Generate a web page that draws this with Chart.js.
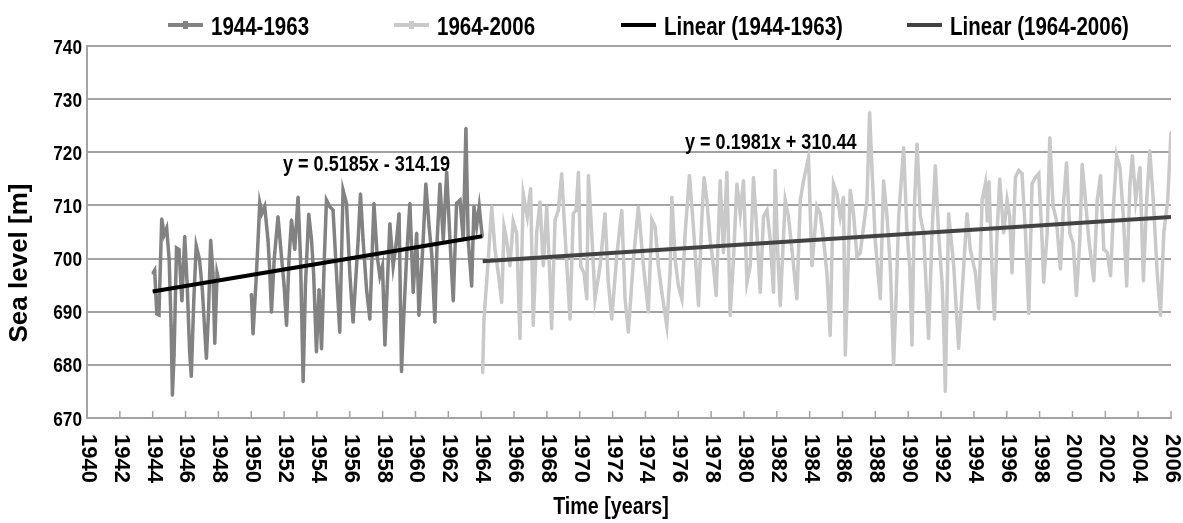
<!DOCTYPE html>
<html><head><meta charset="utf-8">
<script src="https://cdn.jsdelivr.net/npm/chart.js@4.4.1/dist/chart.umd.min.js"></script>
<style>html,body{margin:0;padding:0;background:#fff;}#wrap{width:1183px;height:523px;}</style>
</head><body><div id="wrap"><canvas id="c" width="1183" height="523"></canvas></div>
<script>
// ---------- DATA ----------
const seriesNames = ['1944-1963', '1964-2006', 'Linear (1944-1963)', 'Linear (1964-2006)'];
const xTickLabels = ['1940','1942','1944','1946','1948','1950','1952','1954','1956','1958','1960','1962','1964','1966','1968','1970','1972','1974','1976','1978','1980','1982','1984','1986','1988','1990','1992','1994','1996','1998','2000','2002','2004','2006'];
const yTickValues = [670, 680, 690, 700, 710, 720, 730, 740];
const xAxisTitle = 'Time [years]';
const yAxisTitle = 'Sea level [m]';
const equation1 = 'y = 0.5185x - 314.19';
const equation2 = 'y = 0.1981x + 310.44';

const s1Years = [1944.02,1944.12,1944.25,1944.38,1944.55,1944.7,1944.85,1945.0,1945.12,1945.2,1945.3,1945.45,1945.6,1945.78,1945.95,1946.1,1946.25,1946.35,1946.5,1946.65,1946.85,1947.02,1947.27,1947.4,1947.53,1947.67,1947.78,1947.92,1947.98,
  1949.0,
  1950.01,1950.11,1950.32,1950.52,1950.65,1950.82,1951.02,1951.12,1951.23,1951.4,1951.63,1951.84,1952.0,1952.15,1952.3,1952.45,1952.65,1952.85,1953.0,1953.16,1953.3,1953.5,1953.67,1953.8,1953.97,1954.13,1954.28,1954.45,1954.58,1954.78,1954.98,1955.19,1955.39,1955.59,1955.8,1956.0,1956.2,1956.51,1956.65,1956.81,1957.02,1957.22,1957.47,1957.67,1957.83,1957.99,1958.14,1958.28,1958.44,1958.64,1958.85,1959.0,1959.15,1959.3,1959.46,1959.66,1959.86,1960.07,1960.21,1960.47,1960.63,1960.83,1961.0,1961.18,1961.32,1961.49,1961.69,1961.9,1962.1,1962.3,1962.5,1962.71,1962.91,1963.07,1963.21,1963.42,1963.56,1963.72,1963.88,1964.06];
const s1Values = [697.3,697.8,689.6,689.4,707.5,704.5,705.7,700,687.4,674.3,681.8,702,701.7,692,704.2,695,682.4,677.8,692,702.4,699.8,694.2,681.2,690,703.5,697.3,684,697.3,696.5,
  null,
  693.3,685.8,697.3,710.4,708.5,709.8,703.5,698,689.9,700,707.9,700.4,695,687.4,700,707.3,701.7,711.6,700,676.8,695,708.4,703.5,697,682.4,694.2,683,700,711,709.8,709.1,697.3,686.1,712.9,710.4,697.3,688,703.5,712.2,703.5,694.2,688.6,710.4,700.4,696.7,698.6,683.7,694.8,706.6,698.6,703.5,708.5,678.7,690,700.4,710.4,693.6,704.8,689.3,703.5,714.1,706,700.4,688,703.5,714.1,703.5,716.3,703.5,692,710.4,711,703.5,724.5,703.5,694.8,709.8,706,709.8,704.2];

const s2Years = [1964.09,1964.17,1964.43,1964.64,1964.84,1965.04,1965.25,1965.39,1965.55,1965.75,1965.95,1966.16,1966.36,1966.56,1966.81,1967.01,1967.17,1967.38,1967.58,1967.78,1967.99,1968.19,1968.29,1968.5,1968.7,1968.9,1969.1,1969.41,1969.61,1969.78,1969.92,1970.06,1970.26,1970.43,1970.53,1970.73,1970.93,1971.24,1971.54,1971.74,1971.95,1972.25,1972.56,1972.76,1972.96,1973.27,1973.57,1973.88,1974.18,1974.39,1974.59,1974.79,1975.0,1975.3,1975.5,1975.61,1975.81,1976.01,1976.22,1976.42,1976.68,1976.92,1977.13,1977.23,1977.43,1977.57,1977.74,1977.94,1978.14,1978.31,1978.55,1978.75,1978.96,1979.16,1979.36,1979.57,1979.77,1979.97,1980.18,1980.38,1980.58,1980.79,1980.99,1981.19,1981.4,1981.6,1981.8,1981.9,1982.04,1982.21,1982.51,1982.71,1982.92,1983.22,1983.43,1983.63,1983.93,1984.14,1984.44,1984.64,1984.85,1985.05,1985.25,1985.45,1985.66,1985.86,1986.06,1986.17,1986.31,1986.47,1986.67,1986.88,1987.08,1987.28,1987.49,1987.65,1987.79,1987.99,1988.16,1988.3,1988.5,1988.71,1988.91,1989.11,1989.26,1989.42,1989.72,1989.93,1990.09,1990.23,1990.39,1990.54,1990.74,1990.94,1991.24,1991.45,1991.65,1991.85,1992.06,1992.16,1992.26,1992.46,1992.77,1993.07,1993.38,1993.58,1993.78,1994.09,1994.29,1994.5,1994.7,1994.82,1994.92,1995.11,1995.25,1995.41,1995.57,1995.81,1996.02,1996.18,1996.32,1996.53,1996.73,1996.93,1997.14,1997.34,1997.54,1997.75,1997.95,1998.15,1998.25,1998.46,1998.62,1998.82,1999.02,1999.27,1999.47,1999.64,1999.84,2000.04,2000.24,2000.45,2000.59,2000.79,2001.0,2001.3,2001.51,2001.71,2001.91,2002.12,2002.32,2002.52,2002.69,2002.89,2003.1,2003.3,2003.5,2003.65,2003.85,2004.11,2004.32,2004.52,2004.71,2004.92,2005.16,2005.36,2005.56,2005.8,2006.0];
const s2Values = [678.5,688.6,699.8,709.8,701.7,697.3,691.7,706,703.5,698.6,707,704.8,684.9,712.2,707.9,713.2,687.4,704.8,710.7,698.6,709.8,696.1,686.8,707.3,709.1,716,704.8,688.6,708.5,709.1,716.3,698.6,697.3,692.4,715.7,704.8,692.4,698.6,708.5,695.5,688.6,700.4,709.1,692.4,686.1,699.8,709.8,698.6,689.9,707.3,706,698.6,693.6,687.4,697.3,711.6,699.8,694.8,692.4,704.8,715.7,706,696.1,691.1,707.3,715.3,711,703.5,698.6,693,714.7,701.1,716.3,689.3,699.8,714.1,708.5,714.7,695.5,698.6,715.3,704.8,693.6,707.9,709.1,703.5,693.6,716.6,702.3,691.1,711,707.9,701.7,692.4,711,714.7,719.1,698.6,709.8,708.5,703.5,697.3,685.5,714.1,712.2,707.9,711.6,681.8,696.1,712.9,708.5,700.4,701.1,706,711,727.5,717.2,703.5,697.3,692.4,714.7,707.9,698.6,680,692.4,707.9,720.9,704.8,698.6,683.7,711,721.6,707.9,704.8,684.9,704.8,717.5,704.8,695.5,687.4,675,708.5,698.6,683.1,698.6,708.5,701.7,697.3,690.5,711,714.1,707,714.5,697.3,688.6,704.8,715,704.8,711,707.9,697.3,715.3,716.6,716,704.8,689.6,714.1,715.3,716,703.5,695.5,704.8,722.8,709.8,707.3,698,711,718.1,704.8,702.9,693,703.5,717.8,711,703.5,695.8,711,715.7,701.7,701.1,696.7,711,719.4,717.2,707.9,694.8,714.1,719.4,711,717.2,695.8,711,720.3,711,697.3,689.3,704.8,711,723.7];

const trend1Years = [1944.0, 1964.06];
const trend1Values = [693.8, 704.2];
const trend2Years = [1964.09, 2006.0];
const trend2Values = [699.5, 707.8];

// ---------- STYLE ----------
const GRID = '#a3a3a3';
const C1 = '#828282', C2 = '#c9c9c9', CT1 = '#000000', CT2 = '#424242';
const REG = "'Liberation Sans', Arial, sans-serif";
const SQUEEZE = 0.82;

const toXY = (xs, ys) => xs.map((x, i) => ({ x: x, y: ys[i] }));

// condensed bold text: Liberation Sans Bold squeezed horizontally
function nText(ctx, text, x, y, size, align) {
  ctx.save();
  ctx.textAlign = align || 'left';
  ctx.textBaseline = 'alphabetic';
  ctx.fillStyle = '#000';
  ctx.font = `bold ${size}px ${REG}`;
  ctx.translate(x, y); ctx.scale(SQUEEZE, 1);
  ctx.fillText(text, 0, 0);
  ctx.restore();
}

const decor = {
  id: 'decor',
  afterDraw(chart) {
    const { ctx, scales: { x, y }, chartArea } = chart;
    ctx.save();
    // x tick marks (pointing inward)
    ctx.strokeStyle = GRID; ctx.lineWidth = 1.5;
    xTickLabels.forEach(l => {
      const px = x.getPixelForValue(Number(l));
      ctx.beginPath(); ctx.moveTo(px, chartArea.bottom); ctx.lineTo(px, chartArea.bottom - 7); ctx.stroke();
    });
    // x tick labels, rotated clockwise
    ctx.fillStyle = '#000';
    ctx.font = `bold 22px ${REG}`;
    ctx.textAlign = 'left'; ctx.textBaseline = 'middle';
    xTickLabels.forEach(l => {
      const px = x.getPixelForValue(Number(l));
      ctx.save(); ctx.translate(px + 1, chartArea.bottom + 16); ctx.rotate(Math.PI / 2);
      ctx.fillText(l, 0, 0); ctx.restore();
    });
    // y tick labels (condensed)
    yTickValues.forEach(v => {
      const py = y.getPixelForValue(v);
      nText(ctx, String(v), chartArea.left - 5, py + 7.5, 21, 'right');
    });
    // y axis title
    ctx.save(); ctx.translate(20, 263); ctx.rotate(-Math.PI / 2);
    ctx.font = `bold 26px ${REG}`; ctx.textAlign = 'center'; ctx.textBaseline = 'middle';
    ctx.fillText(yAxisTitle, 0, 0); ctx.restore();
    ctx.restore();
    // x axis title
    nText(ctx, xAxisTitle, 611, 514, 24, 'center');
    // equations
    nText(ctx, equation1, 283, 171, 22, 'left');
    nText(ctx, equation2, 685, 149, 22, 'left');
    // legend
    const legendX = [168, 394, 621, 907];
    chart.data.datasets.forEach((ds, i) => {
      const lx = legendX[i];
      ctx.save();
      ctx.strokeStyle = ds.borderColor; ctx.lineWidth = 4;
      ctx.beginPath(); ctx.moveTo(lx, 25); ctx.lineTo(lx + 35, 25); ctx.stroke();
      if (i < 2) {
        ctx.fillStyle = ds.borderColor;
        ctx.fillRect(lx + 15, 21, 5, 8);
      }
      ctx.restore();
      nText(ctx, ds.label, lx + 43, 35, 25, 'left');
    });
  }
};

new Chart(document.getElementById('c'), {
  type: 'line',
  data: {
    datasets: [
      { label: seriesNames[0], data: toXY(s1Years, s1Values), borderColor: C1, backgroundColor: C1, borderWidth: 3.5, pointRadius: 1.5, pointBackgroundColor: C1, pointBorderWidth: 0, spanGaps: false, tension: 0, order: 3 },
      { label: seriesNames[1], data: toXY(s2Years, s2Values), borderColor: C2, backgroundColor: C2, borderWidth: 3.5, pointRadius: 1.5, pointBackgroundColor: C2, pointBorderWidth: 0, tension: 0, order: 2 },
      { label: seriesNames[2], data: toXY(trend1Years, trend1Values), borderColor: CT1, backgroundColor: CT1, borderWidth: 4, pointRadius: 0, tension: 0, order: 1 },
      { label: seriesNames[3], data: toXY(trend2Years, trend2Values), borderColor: CT2, backgroundColor: CT2, borderWidth: 4, pointRadius: 0, tension: 0, order: 0 }
    ]
  },
  options: {
    responsive: false,
    animation: false,
    devicePixelRatio: 1,
    layout: { padding: { top: 46, left: 0, right: 12, bottom: 0 } },
    plugins: { legend: { display: false }, tooltip: { enabled: false } },
    scales: {
      x: {
        type: 'linear', min: 1940, max: 2006,
        grid: { display: false, drawTicks: false },
        border: { display: true, color: GRID, width: 2 },
        ticks: { display: false, stepSize: 2 },
        afterFit: s => { s.height = 105; }
      },
      y: {
        min: 670, max: 740,
        afterBuildTicks: s => { s.ticks = yTickValues.map(v => ({ value: v })); },
        grid: { color: GRID, lineWidth: 2, drawTicks: false },
        border: { display: true, color: GRID, width: 2 },
        ticks: { display: false },
        afterFit: s => { s.width = 87; }
      }
    }
  },
  plugins: [decor]
});
</script>
</body></html>
